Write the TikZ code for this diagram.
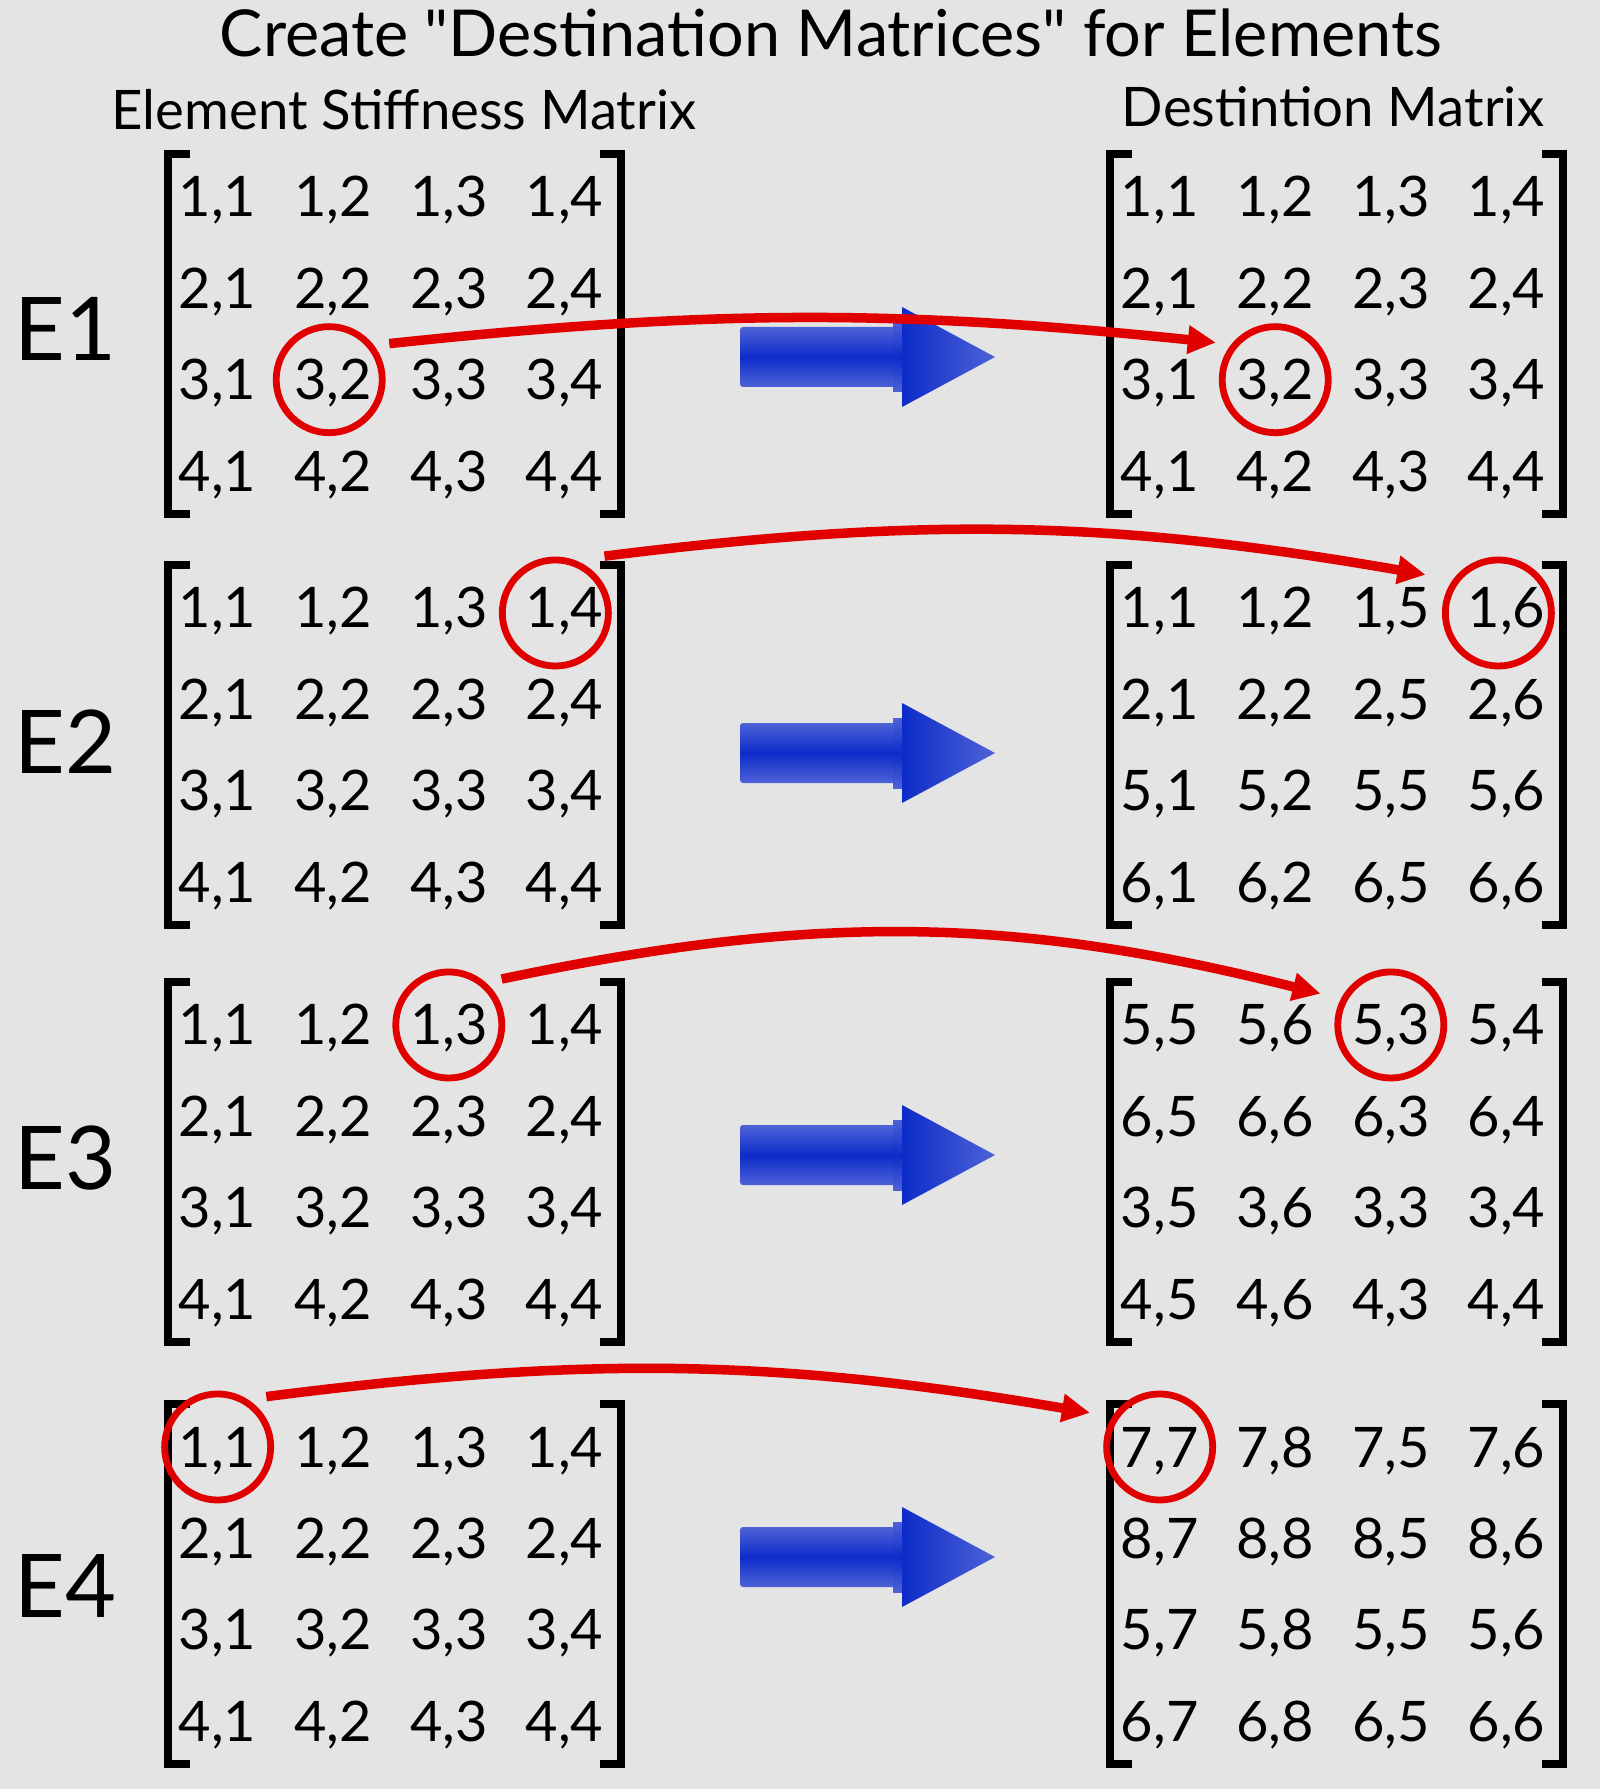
\documentclass[tikz,border=0pt]{standalone}
\usepackage{fontspec}
\setmainfont{Lato}[Ligatures=TeXOff]
\usetikzlibrary{arrows.meta, positioning, matrix}

\definecolor{bggray}{RGB}{228,228,228}
\definecolor{markred}{RGB}{224,0,0}
\definecolor{arrowblue}{RGB}{12,44,200}
\definecolor{arrowlite}{RGB}{78,98,216}

\begin{document}
\begin{tikzpicture}[
    x=0.01cm, y=-0.01cm,
    % Styles
    maintitle/.style={font=\fontsize{18.4}{22}\selectfont, anchor=base, inner sep=0pt},
    header/.style={font=\fontsize{15.5}{19}\selectfont, anchor=base, inner sep=0pt},
    elabel/.style={font=\fontsize{25}{30}\selectfont, anchor=west, inner sep=0pt},
    cell/.style={minimum width=1.155cm, minimum height=0.913cm, inner sep=0pt,
                 text height=0.4cm, text depth=0cm, font=\fontsize{15.9}{19}\selectfont},
    stiffmatrix/.style={matrix of nodes, ampersand replacement=\&, row sep=0pt, column sep=0pt,
                        inner sep=0pt, nodes={cell}},
    bracket/.style={line width=0.08cm},
    hilite/.style={circle, draw=markred, line width=0.068cm, minimum size=1.06cm, inner sep=0pt, outer sep=0.17cm},
    link/.style={markred, line width=0.095cm, -{Triangle[length=0.28cm, width=0.27cm]}},
    % Fat blue arrow between the two matrices
    blockarrow/.pic={
        \shade[top color=arrowlite, bottom color=arrowlite, middle color=arrowblue, rounded corners=0.03cm]
            (0,-30) rectangle (160,30);
        \shade[top color=arrowlite, bottom color=arrowlite, middle color=arrowblue]
            (153,-35) rectangle (165,35);
        \shade[left color=arrowblue, right color=arrowlite] (162,-50) -- (255,0) -- (162,50) -- cycle;
    }
]
    % Background
    \path[use as bounding box, fill=bggray] (0,0) rectangle (1600,1789);

    % Title
    \node[maintitle] (title) at (831,57) {Create "Destination Matrices" for Elements};

    % E1
    \matrix[stiffmatrix] (mA1) at (391,334) {
        1,1 \& 1,2 \& 1,3 \& 1,4 \\
        2,1 \& 2,2 \& 2,3 \& 2,4 \\
        3,1 \& 3,2 \& 3,3 \& 3,4 \\
        4,1 \& 4,2 \& 4,3 \& 4,4 \\
    };
    \matrix[stiffmatrix] (mB1) at (1333,334) {
        1,1 \& 1,2 \& 1,3 \& 1,4 \\
        2,1 \& 2,2 \& 2,3 \& 2,4 \\
        3,1 \& 3,2 \& 3,3 \& 3,4 \\
        4,1 \& 4,2 \& 4,3 \& 4,4 \\
    };
    \node[header, above=0.21cm of mA1.north, anchor=base, xshift=0.13cm] (hdrA) {Element Stiffness Matrix};
    \node[header, above=0.24cm of mB1.north, anchor=base] (hdrB) {Destintion Matrix};
    \node[elabel] (lab1) at (14,329) {E1};

    % E2
    \matrix[stiffmatrix] (mA2) at (391,745) {
        1,1 \& 1,2 \& 1,3 \& 1,4 \\
        2,1 \& 2,2 \& 2,3 \& 2,4 \\
        3,1 \& 3,2 \& 3,3 \& 3,4 \\
        4,1 \& 4,2 \& 4,3 \& 4,4 \\
    };
    \matrix[stiffmatrix] (mB2) at (1333,745) {
        1,1 \& 1,2 \& 1,5 \& 1,6 \\
        2,1 \& 2,2 \& 2,5 \& 2,6 \\
        5,1 \& 5,2 \& 5,5 \& 5,6 \\
        6,1 \& 6,2 \& 6,5 \& 6,6 \\
    };
    \node[elabel] (lab2) at (14,742) {E2};

    % E3
    \matrix[stiffmatrix] (mA3) at (391,1162) {
        1,1 \& 1,2 \& 1,3 \& 1,4 \\
        2,1 \& 2,2 \& 2,3 \& 2,4 \\
        3,1 \& 3,2 \& 3,3 \& 3,4 \\
        4,1 \& 4,2 \& 4,3 \& 4,4 \\
    };
    \matrix[stiffmatrix] (mB3) at (1333,1162) {
        5,5 \& 5,6 \& 5,3 \& 5,4 \\
        6,5 \& 6,6 \& 6,3 \& 6,4 \\
        3,5 \& 3,6 \& 3,3 \& 3,4 \\
        4,5 \& 4,6 \& 4,3 \& 4,4 \\
    };
    \node[elabel] (lab3) at (14,1158) {E3};

    % E4
    \matrix[stiffmatrix] (mA4) at (391,1584) {
        1,1 \& 1,2 \& 1,3 \& 1,4 \\
        2,1 \& 2,2 \& 2,3 \& 2,4 \\
        3,1 \& 3,2 \& 3,3 \& 3,4 \\
        4,1 \& 4,2 \& 4,3 \& 4,4 \\
    };
    \matrix[stiffmatrix] (mB4) at (1333,1584) {
        7,7 \& 7,8 \& 7,5 \& 7,6 \\
        8,7 \& 8,8 \& 8,5 \& 8,6 \\
        5,7 \& 5,8 \& 5,5 \& 5,6 \\
        6,7 \& 6,8 \& 6,5 \& 6,6 \\
    };
    \node[elabel] (lab4) at (14,1586) {E4};

    % Square brackets round every matrix
    \draw[bracket] ([xshift=0.31cm,yshift=-0.035cm]mA1.north west) -| ([xshift=0.09cm,yshift=0.035cm]mA1.south west) -- +(0.22cm,0)
                   ([xshift=-0.23cm,yshift=-0.035cm]mA1.north east) -| ([xshift=-0.02cm,yshift=0.035cm]mA1.south east) -- +(-0.21cm,0);
    \draw[bracket] ([xshift=0.31cm,yshift=-0.035cm]mB1.north west) -| ([xshift=0.09cm,yshift=0.035cm]mB1.south west) -- +(0.22cm,0)
                   ([xshift=-0.23cm,yshift=-0.035cm]mB1.north east) -| ([xshift=-0.02cm,yshift=0.035cm]mB1.south east) -- +(-0.21cm,0);
    \draw[bracket] ([xshift=0.31cm,yshift=-0.035cm]mA2.north west) -| ([xshift=0.09cm,yshift=0.035cm]mA2.south west) -- +(0.22cm,0)
                   ([xshift=-0.23cm,yshift=-0.035cm]mA2.north east) -| ([xshift=-0.02cm,yshift=0.035cm]mA2.south east) -- +(-0.21cm,0);
    \draw[bracket] ([xshift=0.31cm,yshift=-0.035cm]mB2.north west) -| ([xshift=0.09cm,yshift=0.035cm]mB2.south west) -- +(0.22cm,0)
                   ([xshift=-0.23cm,yshift=-0.035cm]mB2.north east) -| ([xshift=-0.02cm,yshift=0.035cm]mB2.south east) -- +(-0.21cm,0);
    \draw[bracket] ([xshift=0.31cm,yshift=-0.035cm]mA3.north west) -| ([xshift=0.09cm,yshift=0.035cm]mA3.south west) -- +(0.22cm,0)
                   ([xshift=-0.23cm,yshift=-0.035cm]mA3.north east) -| ([xshift=-0.02cm,yshift=0.035cm]mA3.south east) -- +(-0.21cm,0);
    \draw[bracket] ([xshift=0.31cm,yshift=-0.035cm]mB3.north west) -| ([xshift=0.09cm,yshift=0.035cm]mB3.south west) -- +(0.22cm,0)
                   ([xshift=-0.23cm,yshift=-0.035cm]mB3.north east) -| ([xshift=-0.02cm,yshift=0.035cm]mB3.south east) -- +(-0.21cm,0);
    \draw[bracket] ([xshift=0.31cm,yshift=-0.035cm]mA4.north west) -| ([xshift=0.09cm,yshift=0.035cm]mA4.south west) -- +(0.22cm,0)
                   ([xshift=-0.23cm,yshift=-0.035cm]mA4.north east) -| ([xshift=-0.02cm,yshift=0.035cm]mA4.south east) -- +(-0.21cm,0);
    \draw[bracket] ([xshift=0.31cm,yshift=-0.035cm]mB4.north west) -| ([xshift=0.09cm,yshift=0.035cm]mB4.south west) -- +(0.22cm,0)
                   ([xshift=-0.23cm,yshift=-0.035cm]mB4.north east) -| ([xshift=-0.02cm,yshift=0.035cm]mB4.south east) -- +(-0.21cm,0);

    % Blue arrows
    \pic at (740,357) {blockarrow};
    \pic at (740,753) {blockarrow};
    \pic at (740,1155) {blockarrow};
    \pic at (740,1557) {blockarrow};

    % Circled entries
    \node[hilite, xshift=-0.04cm] (hA1) at (mA1-3-2) {};
    \node[hilite] (hB1) at (mB1-3-2) {};
    \node[hilite, xshift=-0.09cm, yshift=-0.05cm] (hA2) at (mA2-1-4) {};
    \node[hilite, xshift=-0.08cm, yshift=-0.05cm] (hB2) at (mB2-1-4) {};
    \node[hilite] (hA3) at (mA3-1-3) {};
    \node[hilite] (hB3) at (mB3-1-3) {};
    \node[hilite] (hA4) at (mA4-1-1) {};
    \node[hilite] (hB4) at (mB4-1-1) {};

    % Red arrows from element entry to destination entry
    \draw[link] (hA1.31) to[bend left=6] (hB1.148);
    \draw[link, shorten <=0.07cm, shorten >=0.13cm] (hA2.53) to[bend left=8.5] (hB2.149);
    \draw[link, shorten >=0.07cm] (hA3.41) to[bend left=13] (hB3.155);
    \draw[link, shorten >=0.08cm] (hA4.46) to[bend left=8.5] (hB4.152);
\end{tikzpicture}
\end{document}
